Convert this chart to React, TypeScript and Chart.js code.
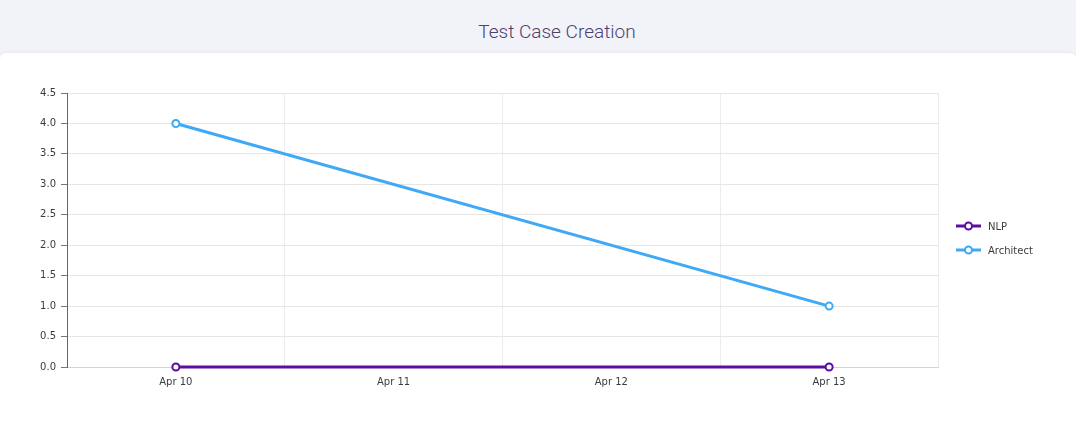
import React, { useEffect, useRef } from "react";
import { Chart, registerables } from "chart.js";

Chart.register(...registerables);

const categories = ["Apr 10", "Apr 11", "Apr 12", "Apr 13"];
const nlpValues: (number | null)[] = [0, null, null, 0];
const architectValues: (number | null)[] = [4, null, null, 1];
const seriesNames = ["NLP", "Architect"];
const seriesColors = ["#5b0fa0", "#3fa9f5"];
const chartTitle = "Test Case Creation";

export default function App() {
  const ref = useRef<HTMLCanvasElement | null>(null);

  useEffect(() => {
    document.body.style.margin = "0";
    const ctx = ref.current!.getContext("2d")!;
    const mk = (label: string, data: (number | null)[], color: string) => ({
      label,
      data,
      borderColor: color,
      backgroundColor: "#ffffff",
      borderWidth: 3,
      pointRadius: 3.5,
      pointBorderWidth: 2,
      pointBorderColor: color,
      pointBackgroundColor: "#ffffff",
      spanGaps: true,
      tension: 0,
      clip: false as any,
    });
    const chart = new Chart(ctx, {
      type: "line",
      data: {
        labels: categories,
        datasets: [
          mk(seriesNames[1], architectValues, seriesColors[1]),
          mk(seriesNames[0], nlpValues, seriesColors[0]),
        ],
      },
      options: {
        animation: false,
        responsive: false,
        maintainAspectRatio: false,
        layout: { padding: { left: 0, top: 93, right: 138, bottom: 31 } },
        plugins: { legend: { display: false }, tooltip: { enabled: false }, title: { display: false } },
        scales: {
          x: {
            type: "category",
            offset: true,
            grid: {
              offset: true,
              color: "#ececec",
              lineWidth: 1,
              drawTicks: false,
              tickLength: 0,
            },
            border: { display: true, color: "#d4d4d4", width: 1 },
            ticks: {
              padding: 9,
              color: "#373d3f",
              font: { family: "DejaVu Sans", size: 10 },
              maxRotation: 0,
            },
            afterFit: (s: any) => {
              s.height = 30;
            },
          },
          y: {
            min: 0,
            max: 4.5,
            ticks: {
              stepSize: 0.5,
              padding: 5,
              color: "#373d3f",
              font: { family: "DejaVu Sans", size: 10 },
              callback: (v: any) => Number(v).toFixed(1),
            },
            grid: {
              color: "#e6e6e6",
              lineWidth: 1,
              tickLength: 6,
              tickColor: "#777777",
            },
            border: { display: true, color: "#666666", width: 1 },
            afterFit: (s: any) => {
              s.width = 67;
            },
          },
        },
      },
    });
    return () => chart.destroy();
  }, []);

  const legendItems = [
    { name: seriesNames[0], color: seriesColors[0] },
    { name: seriesNames[1], color: seriesColors[1] },
  ];

  return (
    <div style={{ position: "relative", width: 1076, height: 428, background: "#f2f3f8", overflow: "hidden" }}>
      <div
        style={{
          position: "absolute",
          left: 0,
          top: 0,
          width: 1076,
          height: 53,
          display: "flex",
          alignItems: "center",
          justifyContent: "center",
          paddingLeft: 38,
          boxSizing: "border-box",
          paddingTop: 10,
          fontFamily: "Roboto, sans-serif",
          fontWeight: 300,
          fontSize: 19,
          color: "#4a4270",
        }}
      >
        {chartTitle}
      </div>
      <div
        style={{
          position: "absolute",
          left: 0,
          top: 53,
          width: 1076,
          height: 380,
          background: "#ffffff",
          borderRadius: 6,
          boxShadow: "0 -1px 3px rgba(0,0,0,0.04)",
        }}
      />
      <canvas ref={ref} width={1076} height={428} style={{ position: "absolute", left: 0, top: 0 }} />
      {legendItems.map((it, i) => (
        <div
          key={it.name}
          style={{
            position: "absolute",
            left: 955,
            top: 219 + i * 24,
            height: 14,
            display: "flex",
            alignItems: "center",
            fontFamily: "DejaVu Sans, sans-serif",
            fontSize: 10,
            color: "#373d3f",
          }}
        >
          <svg width={27} height={14} style={{ marginRight: 6 }}>
            <line x1={1} y1={7} x2={26} y2={7} stroke={it.color} strokeWidth={3} />
            <circle cx={13.5} cy={7} r={3.5} fill="#ffffff" stroke={it.color} strokeWidth={2} />
          </svg>
          {it.name}
        </div>
      ))}
    </div>
  );
}
